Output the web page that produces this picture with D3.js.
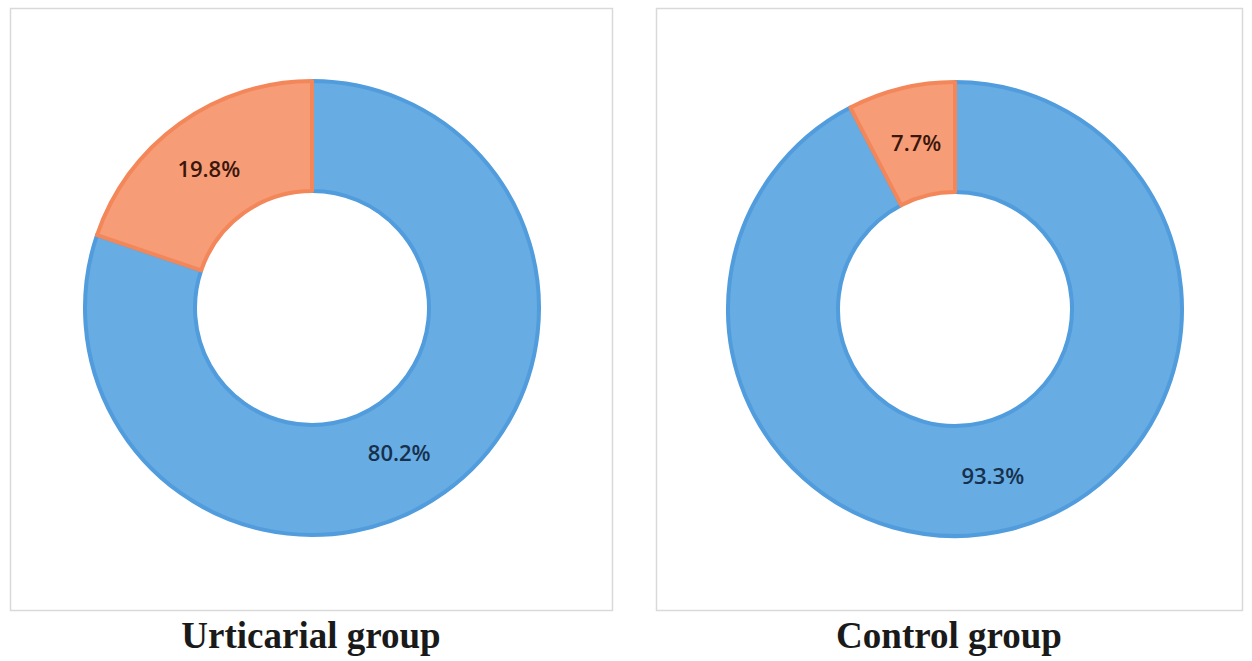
<!DOCTYPE html>
<html>
<head>
<meta charset="utf-8">
<script src="https://cdn.jsdelivr.net/npm/d3@7"></script>
<style>
  body { margin: 0; background: #fff; }
</style>
</head>
<body>
<div class="donut-container"></div>
<script>
// data
const groups = ['Urticarial group', 'Control group'];
const categories = ['blue', 'orange'];
const urticarialValues = [80.2, 19.8];
const controlValues = [93.3, 7.7];
const seriesValues = [urticarialValues, controlValues];

const fills = ['#67ace2', '#f69c77'];
const strokes = ['#519cdc', '#f3875a'];
const labelColors = ['#16304d', '#3a160b'];

const svg_width = 1252;
const svg_height = 661;

// panel boxes (left, top, width, height)
const panels = [
    {x: 10, y: 8, w: 602, h: 602, cx: 312, cy: 308},
    {x: 656, y: 8, w: 586, h: 602, cx: 955, cy: 309}
];
const outerR = 229;
const innerR = 115;

// small manual nudges like the dragged labels in the original
const labelNudge = [[[-13, 5], [-3, 1]], [[-3, 0], [2, 1]]];

const svg = d3.select('.donut-container').append('svg')
    .attr('width', svg_width).attr('height', svg_height);

const pie = d3.pie().sort(null).value(d => d);
const arc = d3.arc().innerRadius(innerR + 2).outerRadius(outerR - 2);
const labelArc = d3.arc().innerRadius(innerR).outerRadius(outerR);

panels.forEach((p, i) => {
    // frame
    svg.append('rect')
        .attr('x', p.x + 0.5).attr('y', p.y + 0.5)
        .attr('width', p.w).attr('height', p.h)
        .style('fill', 'none')
        .style('stroke', '#d9d9d9')
        .style('stroke-width', 1.5);

    const g = svg.append('g')
        .attr('transform', `translate(${p.cx},${p.cy})`);

    const slices = pie(seriesValues[i]);

    g.selectAll('.slice')
        .data(slices)
        .enter()
        .append('path').attr('class', 'slice')
        .attr('d', arc)
        .style('fill', (d, j) => fills[j])
        .style('stroke', (d, j) => strokes[j])
        .style('stroke-width', 4)
        .style('stroke-linejoin', 'round');

    g.selectAll('.label')
        .data(slices)
        .enter()
        .append('text').attr('class', 'label')
        .attr('transform', (d, j) => {
            const c = labelArc.centroid(d);
            const n = labelNudge[i][j];
            return `translate(${c[0] + n[0]},${c[1] + n[1]})`;
        })
        .attr('text-anchor', 'middle')
        .attr('dy', '0.36em')
        .style('font-family', '"Open Sans", "Noto Sans", sans-serif')
        .style('font-size', '22px')
        .style('font-weight', 600)
        .style('fill', (d, j) => labelColors[j])
        .text(d => d3.format('.1f')(d.data) + '%');

    // group title under each panel
    svg.append('text')
        .attr('x', p.x + p.w / 2)
        .attr('y', 648)
        .attr('text-anchor', 'middle')
        .style('font-family', '"Liberation Serif", "Times New Roman", serif')
        .style('font-weight', 'bold')
        .style('font-size', '37px')
        .style('fill', '#1a1a1a')
        .text(groups[i]);
});
</script>
</body>
</html>
